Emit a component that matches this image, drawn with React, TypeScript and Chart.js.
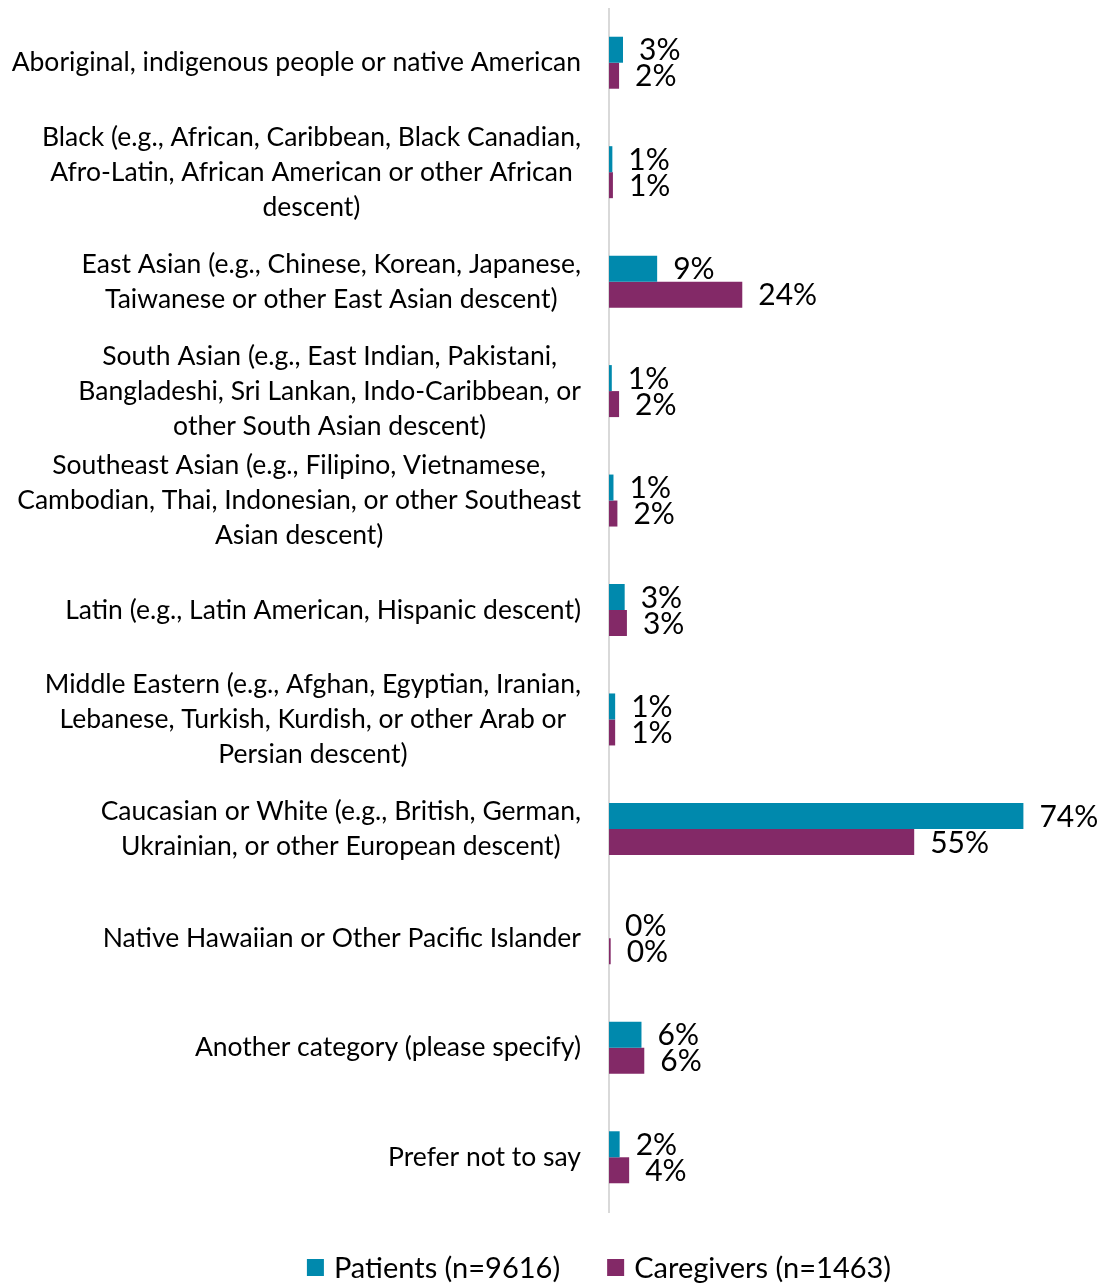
import React, { useEffect, useRef } from "react";
import { Chart, registerables } from "chart.js";

Chart.register(...registerables);

const categories: (string | string[])[] = [
  "Aboriginal, indigenous people or native American",
  ["Black (e.g., African, Caribbean, Black Canadian,", "Afro-Latin, African American or other African", "descent)"],
  ["East Asian (e.g., Chinese, Korean, Japanese,", "Taiwanese or other East Asian descent)"],
  ["South Asian (e.g., East Indian, Pakistani,", "Bangladeshi, Sri Lankan, Indo-Caribbean, or", "other South Asian descent)"],
  ["Southeast Asian (e.g., Filipino, Vietnamese,", "Cambodian, Thai, Indonesian, or other Southeast", "Asian descent)"],
  "Latin (e.g., Latin American, Hispanic descent)",
  ["Middle Eastern (e.g., Afghan, Egyptian, Iranian,", "Lebanese, Turkish, Kurdish, or other Arab or", "Persian descent)"],
  ["Caucasian or White (e.g., British, German,", "Ukrainian, or other European descent)"],
  "Native Hawaiian or Other Pacific Islander",
  "Another category (please specify)",
  "Prefer not to say",
];

const patients = [2.5, 0.6, 8.6, 0.5, 0.8, 2.8, 1.1, 74.0, 0.0, 5.8, 1.9];
const caregivers = [1.8, 0.7, 23.8, 1.8, 1.5, 3.2, 1.1, 54.5, 0.3, 6.3, 3.6];

const seriesNames = ["Patients (n=9616)", "Caregivers (n=1463)"];
const seriesColors = ["#0089AD", "#832967"];

const FONT = "Lato, 'Open Sans', sans-serif";
const CAT_FONT_SIZE = 26.5;
const VAL_FONT_SIZE = 30;
const LEG_FONT_SIZE = 29;
const LABEL_RIGHT = 573;
const LINE_H = 35;

const labelsPlugin = {
  id: "customLabels",
  afterDraw(chart: any) {
    const ctx = chart.ctx;
    const yScale = chart.scales.y;
    ctx.save();
    ctx.fillStyle = "#000";
    ctx.textBaseline = "middle";
    ctx.textAlign = "center";
    ctx.font = `${CAT_FONT_SIZE}px ${FONT}`;
    categories.forEach((cat, i) => {
      const lines = Array.isArray(cat) ? cat : [cat];
      const maxW = Math.max(...lines.map((l) => ctx.measureText(l).width));
      const cx = LABEL_RIGHT - maxW / 2;
      const yc = yScale.getPixelForValue(i);
      const top = yc - ((lines.length - 1) * LINE_H) / 2;
      lines.forEach((l, j) => ctx.fillText(l, cx, top + j * LINE_H));
    });
    ctx.textAlign = "left";
    ctx.font = `${VAL_FONT_SIZE}px ${FONT}`;
    chart.data.datasets.forEach((ds: any, di: number) => {
      const meta = chart.getDatasetMeta(di);
      meta.data.forEach((bar: any, i: number) => {
        const v = ds.data[i];
        ctx.fillText(`${Math.round(v)}%`, bar.x + 16, bar.y + 1);
      });
    });
    // legend
    ctx.font = `${LEG_FONT_SIZE}px ${FONT}`;
    const box = 17;
    const gapText = 10;
    const gapItem = 47;
    const widths = seriesNames.map((n) => box + gapText + ctx.measureText(n).width);
    const total = widths.reduce((a, b) => a + b, 0) + gapItem * (seriesNames.length - 1);
    let x = 591 - total / 2;
    const yc = 1259.5;
    seriesNames.forEach((n, i) => {
      ctx.fillStyle = seriesColors[i];
      ctx.fillRect(x, yc - box / 2, box, box);
      ctx.fillStyle = "#000";
      ctx.fillText(n, x + box + gapText, yc + 1);
      x += widths[i] + gapItem;
    });
    ctx.restore();
  },
};

export default function App() {
  const ref = useRef<HTMLCanvasElement>(null);
  useEffect(() => {
    if (!ref.current) return;
    const chart = new Chart(ref.current, {
      type: "bar",
      data: {
        labels: categories as any,
        datasets: [
          { label: seriesNames[0], data: patients, backgroundColor: seriesColors[0], barPercentage: 1, categoryPercentage: 0.475 },
          { label: seriesNames[1], data: caregivers, backgroundColor: seriesColors[1], barPercentage: 1, categoryPercentage: 0.475 },
        ],
      },
      options: {
        indexAxis: "y",
        animation: false,
        responsive: false,
        maintainAspectRatio: false,
        layout: { padding: { left: 0, right: 45, top: 0, bottom: 73 } },
        scales: {
          x: { display: false, min: 0, max: 80 },
          y: {
            grid: { display: false },
            ticks: { display: false },
            border: { display: true, color: "#D9D9D9", width: 2 },
            afterFit: (scale: any) => {
              scale.width = 601;
            },
          },
        },
        plugins: {
          tooltip: { enabled: false },
          legend: { display: false },
        },
      },
      plugins: [labelsPlugin],
    });
    return () => chart.destroy();
  }, []);
  return (
    <canvas
      ref={ref}
      width={1094}
      height={1277}
      style={{ display: "block", position: "absolute", left: 8, top: 8 }}
    />
  );
}
